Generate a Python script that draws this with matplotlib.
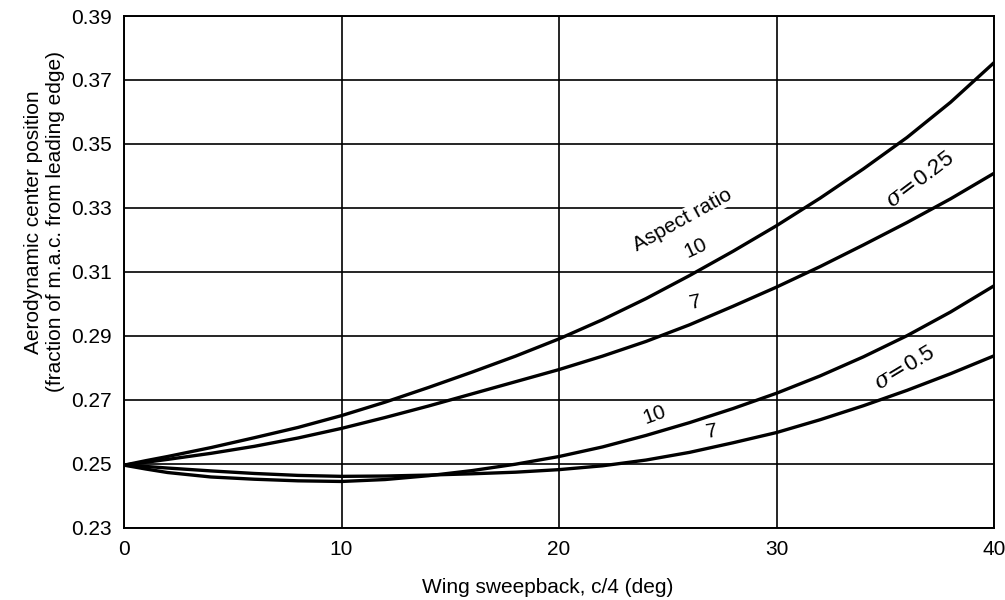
import matplotlib
matplotlib.use("Agg")
import matplotlib.pyplot as plt

plt.rcParams['font.family'] = ['Liberation Sans', 'DejaVu Sans']
plt.rcParams['mathtext.fontset'] = 'dejavuserif'

sweep = [0, 1, 2, 4, 6, 8, 10, 12, 14, 16, 18, 20, 22, 24, 26, 28, 30, 32, 34, 36, 38, 40]

# sigma = 0.25
ac_s025_ar10 = [0.2495, 0.2509, 0.2522, 0.2550, 0.2581, 0.2613, 0.2650, 0.2692, 0.2738, 0.2786,
                0.2836, 0.2890, 0.2950, 0.3016, 0.3088, 0.3164, 0.3244, 0.3330, 0.3422, 0.3520,
                0.3630, 0.3754]
ac_s025_ar7 = [0.2495, 0.2504, 0.2513, 0.2532, 0.2554, 0.2580, 0.2610, 0.2644, 0.2680, 0.2718,
               0.2756, 0.2794, 0.2836, 0.2882, 0.2934, 0.2992, 0.3052, 0.3116, 0.3184, 0.3254,
               0.3328, 0.3408]
# sigma = 0.5
ac_s05_ar10 = [0.2495, 0.2483, 0.2472, 0.2458, 0.2451, 0.2446, 0.2444, 0.2450, 0.2462, 0.2478,
               0.2498, 0.2522, 0.2552, 0.2588, 0.2628, 0.2672, 0.2720, 0.2774, 0.2834, 0.2900,
               0.2974, 0.3056]
ac_s05_ar7 = [0.2495, 0.2491, 0.2486, 0.2477, 0.2469, 0.2463, 0.2460, 0.2461, 0.2464, 0.2468,
              0.2473, 0.2481, 0.2493, 0.2511, 0.2535, 0.2565, 0.2597, 0.2637, 0.2681, 0.2729,
              0.2781, 0.2837]

x_ticks = [0, 10, 20, 30, 40]
y_ticks = [0.23, 0.25, 0.27, 0.29, 0.31, 0.33, 0.35, 0.37, 0.39]

fig = plt.figure(figsize=(10.05, 6.0), dpi=100)
ax = fig.add_axes([124/1005, 1-527.5/600, (994-124)/1005, (527.5-16)/600])

ax.set_xlim(0, 40)
ax.set_ylim(0.23, 0.39)
ax.set_xticks(x_ticks)
ax.set_yticks(y_ticks)
ax.set_xticklabels([str(t) for t in x_ticks])
ax.set_yticklabels([f"{t:.2f}" for t in y_ticks])
ax.tick_params(length=0, labelsize=15, pad=9)
ax.grid(True, color='black', linewidth=1.2)
ax.set_axisbelow(True)
for s in ax.spines.values():
    s.set_linewidth(1.4)
    s.set_color('black')

for ys in (ac_s025_ar10, ac_s025_ar7, ac_s05_ar10, ac_s05_ar7):
    ax.plot(sweep, ys, color='black', linewidth=2.4, solid_joinstyle='round',
            solid_capstyle='round', zorder=3)

ax.set_xlabel("Wing sweepback, c/4 (deg)", fontsize=15)
ax.xaxis.set_label_coords(0.487, -0.098)

fig.text(0.044, 0.63, "Aerodynamic center position\n(fraction of m.a.c. from leading edge)",
         rotation=90, ha='center', va='center', multialignment='center',
         fontsize=15, linespacing=1.2)

ax.text(25.7, 0.3262, "Aspect ratio", rotation=29, ha='center', va='center', fontsize=15,
        rotation_mode='anchor', zorder=4,
        bbox=dict(facecolor='white', edgecolor='none', pad=0.5))
ax.text(26.3, 0.3174, "10", rotation=25, ha='center', va='center', fontsize=15,
        rotation_mode='anchor', zorder=4)
ax.text(26.25, 0.3005, "7", rotation=12, ha='center', va='center', fontsize=15,
        rotation_mode='anchor', zorder=4)
ax.text(36.6, 0.3387, r"$\sigma\!=\!$0.25", rotation=37, ha='center', va='center', fontsize=16,
        rotation_mode='anchor', zorder=4)
ax.text(35.9, 0.2799, r"$\sigma\!=\!$0.5", rotation=31, ha='center', va='center', fontsize=16,
        rotation_mode='anchor', zorder=4)
ax.text(24.4, 0.2652, "10", rotation=20, ha='center', va='center', fontsize=15,
        rotation_mode='anchor', zorder=4)
ax.text(27.0, 0.2599, "7", rotation=10, ha='center', va='center', fontsize=15,
        rotation_mode='anchor', zorder=4)

fig.savefig("out.png", dpi=100, facecolor='white')
